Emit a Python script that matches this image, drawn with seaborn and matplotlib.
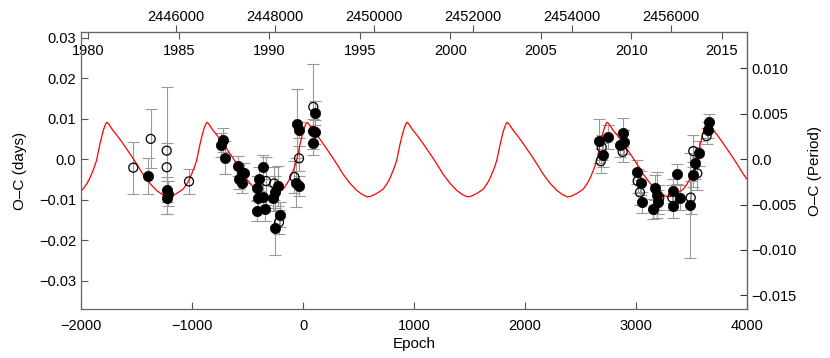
import numpy as np
import pandas as pd
import matplotlib
matplotlib.use("Agg")
import matplotlib.pyplot as plt
import seaborn as sns

# ---- data ----
# filled symbols: epoch, O-C (days), error (days)
epoch_filled = [-1394, -1222, -1214, -1226,
                -742, -723, -703, -583, -552, -529, -574, -552, -363, -394, -417, -357,
                -403, -417, -342, -222, -252, -273, -207, -252, -51, -39, -63, -39,
                111, 87, 111, 87,
                2671, 2705, 2750, 2885, 2892, 2856, 3006, 3045, 3057, 3171, 3186, 3201,
                3150, 3330, 3372, 3396, 3336, 3486, 3510, 3531, 3570, 3660, 3651]
oc_filled = [-0.0042, -0.0075, -0.0085, -0.0095,
             0.0035, 0.0047, 0.0004, -0.0017, -0.0035, -0.0035, -0.0048, -0.0058, -0.0019, -0.0049, -0.0072, -0.0093,
             -0.0097, -0.0128, -0.0123, -0.0066, -0.0081, -0.0097, -0.0137, -0.0171, 0.0088, 0.0072, -0.0058, -0.0067,
             0.0114, 0.0069, 0.0067, 0.0040,
             0.0045, 0.0010, 0.0054, 0.0065, 0.0043, 0.0035, -0.0031, -0.0058, -0.0107, -0.0070, -0.0089, -0.0105,
             -0.0123, -0.0079, -0.0037, -0.0095, -0.0115, -0.0114, -0.0038, -0.0009, 0.0014, 0.0092, 0.0072]
err_filled = [0.0045, 0.0030, 0.0030, 0.0040,
              0.0030, 0.0030, 0.0040, 0.0025, 0.0025, 0.0025, 0.0025, 0.0025, 0.0030, 0.0030, 0.0030, 0.0030,
              0.0025, 0.0025, 0.0030, 0.0050, 0.0040, 0.0030, 0.0030, 0.0065, 0.0085, 0.0020, 0.0060, 0.0025,
              0.0030, 0.0030, 0.0030, 0.0030,
              0.0054, 0.0030, 0.0030, 0.0036, 0.0030, 0.0030, 0.0030, 0.0030, 0.0025, 0.0030, 0.0057, 0.0030,
              0.0025, 0.0030, 0.0025, 0.0030, 0.0030, 0.0130, 0.0030, 0.0040, 0.0030, 0.0020, 0.0020]

# open symbols
epoch_open = [-1529, -1372, -1228, -1228, -1027,
              -333, -261, -216, -36, -78, 93,
              2691, 2682, 2880, 3015, 3036, 3210, 3327, 3493, 3552, 3516, 3636]
oc_open = [-0.0021, 0.0050, 0.0021, -0.0020, -0.0055,
           -0.0054, -0.0060, -0.0156, 0.0002, -0.0044, 0.0129,
           0.0029, -0.0005, 0.0018, -0.0054, -0.0082, -0.0095, -0.0095, -0.0095, -0.0035, 0.0020, 0.0057]
err_open = [0.0064, 0.0073, 0.0156, 0.0060, 0.0030,
            0.0060, 0.0040, 0.0030, 0.0030, 0.0040, 0.0105,
            0.0030, 0.0030, 0.0025, 0.0030, 0.0030, 0.0030, 0.0030, 0.0040, 0.0040, 0.0040, 0.0020]

# model curve: epochs of the maxima and the shape of one cycle around a maximum
peak_epochs = [-1766, -864, 37, 938, 1840, 2741, 3643]
cycle_offset = [-361, -330, -306, -270, -216, -180, -153, -120, -95, -63, -40, -27, -12, 0,
                12, 27, 54, 90, 135, 180, 225, 270, 324, 387, 450, 496]
cycle_oc = [-0.0093, -0.0092, -0.0089, -0.0084, -0.0074, -0.0060, -0.0046, -0.0024, -0.0004, 0.0038,
            0.0064, 0.0076, 0.0087, 0.0091, 0.0088, 0.0082, 0.0071, 0.0059, 0.0042, 0.0024, 0.0006,
            -0.0013, -0.0037, -0.0060, -0.0078, -0.0087]

# ephemeris used for the top and right axes
T0 = 2448570.0
PERIOD = 2.24

# ---- build frames ----
df_f = pd.DataFrame({"epoch": epoch_filled, "oc": oc_filled, "err": err_filled})
df_o = pd.DataFrame({"epoch": epoch_open, "oc": oc_open, "err": err_open})
curve = pd.DataFrame({
    "epoch": np.concatenate([p + np.array(cycle_offset) for p in peak_epochs]),
    "oc": np.tile(cycle_oc, len(peak_epochs)),
})

sns.set_style("ticks")
plt.rcParams["font.family"] = ["Liberation Sans", "DejaVu Sans"]
plt.rcParams["axes.unicode_minus"] = True
plt.rcParams["text.color"] = "black"
plt.rcParams["axes.labelcolor"] = "black"
plt.rcParams["xtick.labelcolor"] = "black"
plt.rcParams["ytick.labelcolor"] = "black"

fig = plt.figure(figsize=(8.3, 3.58), dpi=100)
ax = fig.add_axes([81 / 830, 1 - 309 / 358, (747 - 81) / 830, (309 - 32) / 358])

grey = "#999999"
for d in (df_o, df_f):
    ax.errorbar(d["epoch"], d["oc"], yerr=d["err"], fmt="none", ecolor=grey,
                elinewidth=0.8, capsize=4.5, capthick=0.8, zorder=1)

sns.lineplot(data=curve, x="epoch", y="oc", ax=ax, color="red", lw=0.9,
             sort=False, estimator=None, zorder=2)
sns.scatterplot(data=df_o, x="epoch", y="oc", ax=ax, marker="o", s=42,
                facecolor="none", edgecolor="black", linewidth=0.9, zorder=3)
sns.scatterplot(data=df_f, x="epoch", y="oc", ax=ax, marker="o", s=55,
                color="black", edgecolor="black", linewidth=0.5, zorder=4)

ax.set_xlim(-2000, 4000)
ax.set_ylim(-0.037, 0.0314)
ax.set_xticks([-2000, -1000, 0, 1000, 2000, 3000, 4000])
ax.set_yticks([0.03, 0.02, 0.01, 0.0, -0.01, -0.02, -0.03])
ax.set_yticklabels(["0.03", "0.02", "0.01", "0.0", "\u22120.01", "\u22120.02", "\u22120.03"])
ax.set_xticklabels(["\u22122000", "\u22121000", "0", "1000", "2000", "3000", "4000"])
ax.tick_params(axis="both", direction="in", length=5, width=0.8, labelsize=10.5, color="#555555")
ax.tick_params(axis="x", top=False, pad=7)
ax.set_xlabel("Epoch", fontsize=11, labelpad=3)
ax.set_ylabel("O\u2013C (days)", fontsize=11, labelpad=9)
for s in ax.spines.values():
    s.set_color("#666666")
    s.set_linewidth(0.9)

# top axis: Julian date (outside)
jd_ax = ax.secondary_xaxis("top", functions=(lambda e: T0 + e * PERIOD,
                                             lambda j: (j - T0) / PERIOD))
jd_ax.set_xticks([2446000, 2448000, 2450000, 2452000, 2454000, 2456000])
jd_ax.set_xticklabels(["2446000", "2448000", "2450000", "2452000", "2454000", "2456000"])
jd_ax.tick_params(direction="out", length=5, width=0.8, labelsize=10.5, pad=1, color="#555555")
jd_ax.spines["top"].set_color("#666666")

# top axis: calendar year (inside)
yr_ax = ax.secondary_xaxis("top", functions=(
    lambda e: 2000 + (T0 + e * PERIOD - 2451544.5) / 365.25,
    lambda y: ((y - 2000) * 365.25 + 2451544.5 - T0) / PERIOD))
yr_ax.set_xticks([1980, 1985, 1990, 1995, 2000, 2005, 2010, 2015])
yr_ax.set_xticklabels(["1980", "1985", "1990", "1995", "2000", "2005", "2010", "2015"])
yr_ax.tick_params(direction="in", length=5, width=0.8, labelsize=10.5, pad=-19, color="#555555")
yr_ax.spines["top"].set_visible(False)

# right axis: O-C in units of the period
r_ax = ax.secondary_yaxis("right", functions=(lambda d: d / PERIOD, lambda p: p * PERIOD))
r_ax.set_yticks([0.010, 0.005, 0.0, -0.005, -0.010, -0.015])
r_ax.set_yticklabels(["0.010", "0.005", "0.0", "\u22120.005", "\u22120.010", "\u22120.015"])
r_ax.tick_params(direction="in", length=5, width=0.8, labelsize=10.5, pad=3, color="#333333")
r_ax.spines["right"].set_color("#222222")
r_ax.set_ylabel("O\u2013C (Period)", fontsize=11, labelpad=8)

fig.savefig("out.png", dpi=100)
